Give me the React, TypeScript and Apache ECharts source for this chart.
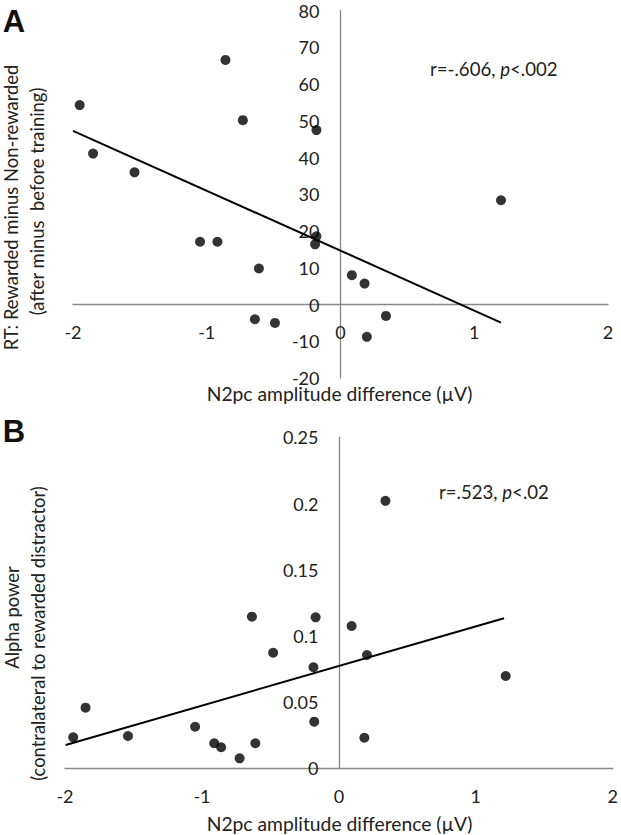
import React, { useEffect, useRef } from "react";
import * as echarts from "echarts";

// Panel A: RT difference vs N2pc amplitude difference
const rtX = [-1.95, -1.85, -1.54, -0.86, -0.73, -0.18, 1.2, -1.05, -0.92, -0.61, -0.64, -0.49, -0.19, -0.18, 0.085, 0.18, 0.34, 0.197];
const rtY = [54.3, 41.1, 36.0, 66.6, 50.2, 47.5, 28.4, 17.1, 17.1, 9.8, -4.0, -5.0, 16.4, 18.6, 8.0, 5.7, -3.1, -8.8];
const rtTrendX = [-2.0, 1.2];
const rtTrendY = [47.3, -4.9];

// Panel B: alpha power vs N2pc amplitude difference
const alphaX = [0.34, -0.17, 0.093, -0.635, -0.48, -0.186, -1.85, -1.94, -1.54, -1.05, -0.91, -0.86, -0.725, -0.61, -0.18, 0.205, 1.218, 0.186];
const alphaY = [0.202, 0.114, 0.1075, 0.1145, 0.0873, 0.0763, 0.0458, 0.0234, 0.0244, 0.0314, 0.0189, 0.0159, 0.0075, 0.0189, 0.0352, 0.0856, 0.0697, 0.0231];
const alphaTrendX = [-1.995, 1.206];
const alphaTrendY = [0.0176, 0.1133];

const FONT = "Lato";
const TXT = "#222";
const AXIS = "#888";

const pairs = (xs: number[], ys: number[]) => xs.map((x, i) => [x, ys[i]]);

export default function App() {
  const ref = useRef<HTMLDivElement>(null);
  useEffect(() => {
    if (!ref.current) return;
    const chart = echarts.init(ref.current, undefined, { renderer: "svg" });
    const axisLine = { show: true, onZero: false, lineStyle: { color: AXIS, width: 1.3 } };
    const xAxisBase = (gridIndex: number, offset: number) => ({
      gridIndex,
      type: "value",
      min: -2,
      max: 2,
      interval: 1,
      offset,
      axisLine,
      axisTick: { show: false },
      splitLine: { show: false },
      axisLabel: { margin: 19, fontSize: 18, color: TXT, fontFamily: FONT },
    });
    const yLabel = { margin: 21, fontSize: 18, color: TXT, fontFamily: FONT };
    chart.setOption({
      animation: false,
      grid: [
        { left: 73, top: 10.7, width: 535, height: 367.3 },
        { left: 65, top: 437.3, width: 549, height: 331 },
      ],
      xAxis: [xAxisBase(0, -73.7), xAxisBase(1, 0)],
      yAxis: [
        {
          gridIndex: 0,
          type: "value",
          min: -20,
          max: 80,
          interval: 10,
          offset: -267.5,
          axisLine,
          axisTick: { show: false },
          splitLine: { show: false },
          axisLabel: yLabel,
        },
        {
          gridIndex: 1,
          type: "value",
          min: 0,
          max: 0.25,
          interval: 0.05,
          offset: -274.5,
          axisLine,
          axisTick: { show: false },
          splitLine: { show: false },
          axisLabel: yLabel,
        },
      ],
      series: [
        {
          type: "line",
          xAxisIndex: 0,
          yAxisIndex: 0,
          data: pairs(rtTrendX, rtTrendY),
          symbol: "none",
          lineStyle: { color: "#000", width: 2 },
        },
        {
          type: "scatter",
          xAxisIndex: 0,
          yAxisIndex: 0,
          data: pairs(rtX, rtY),
          symbolSize: 10,
          itemStyle: { color: "#000" },
        },
        {
          type: "line",
          xAxisIndex: 1,
          yAxisIndex: 1,
          data: pairs(alphaTrendX, alphaTrendY),
          symbol: "none",
          lineStyle: { color: "#000", width: 2 },
        },
        {
          type: "scatter",
          xAxisIndex: 1,
          yAxisIndex: 1,
          data: pairs(alphaX, alphaY),
          symbolSize: 10,
          itemStyle: { color: "#000" },
        },
      ],
      graphic: [
        { type: "text", x: 14, y: 21.5, style: { text: "A", font: "bold 31px 'Liberation Sans'", fill: "#111", align: "center", verticalAlign: "middle" } },
        { type: "text", x: 14, y: 431.5, style: { text: "B", font: "bold 31px 'Liberation Sans'", fill: "#111", align: "center", verticalAlign: "middle" } },
        { type: "text", x: 339.5, y: 393, style: { text: "N2pc amplitude difference (µV)", font: `19.3px ${FONT}`, fill: TXT, align: "center", verticalAlign: "middle" } },
        { type: "text", x: 339.5, y: 823, style: { text: "N2pc amplitude difference (µV)", font: `19.3px ${FONT}`, fill: TXT, align: "center", verticalAlign: "middle" } },
        { type: "text", x: 11, y: 207.5, rotation: Math.PI / 2, style: { text: "RT: Rewarded minus Non-rewarded", font: `18.4px ${FONT}`, fill: TXT, align: "center", verticalAlign: "middle" } },
        { type: "text", x: 37, y: 201.5, rotation: Math.PI / 2, style: { text: "(after minus  before training)", font: `18.4px ${FONT}`, fill: TXT, align: "center", verticalAlign: "middle" } },
        { type: "text", x: 12, y: 617.5, rotation: Math.PI / 2, style: { text: "Alpha power", font: `18.4px ${FONT}`, fill: TXT, align: "center", verticalAlign: "middle" } },
        { type: "text", x: 38, y: 633.5, rotation: Math.PI / 2, style: { text: "(contralateral to rewarded distractor)", font: `18.4px ${FONT}`, fill: TXT, align: "center", verticalAlign: "middle" } },
        {
          type: "text", x: 430, y: 69,
          style: { text: "r=-.606, {i|p}<.002", font: `18.6px ${FONT}`, fill: TXT, align: "left", verticalAlign: "middle", rich: { i: { fontStyle: "italic", fontSize: 18.6, fontFamily: FONT, fill: TXT } } },
        },
        {
          type: "text", x: 439, y: 492,
          style: { text: "r=.523, {i|p}<.02", font: `18.6px ${FONT}`, fill: TXT, align: "left", verticalAlign: "middle", rich: { i: { fontStyle: "italic", fontSize: 18.6, fontFamily: FONT, fill: TXT } } },
        },
      ],
    });
    return () => chart.dispose();
  }, []);
  return <div ref={ref} style={{ position: "fixed", left: 0, top: 0, width: 621, height: 835, background: "#fff" }} />;
}
